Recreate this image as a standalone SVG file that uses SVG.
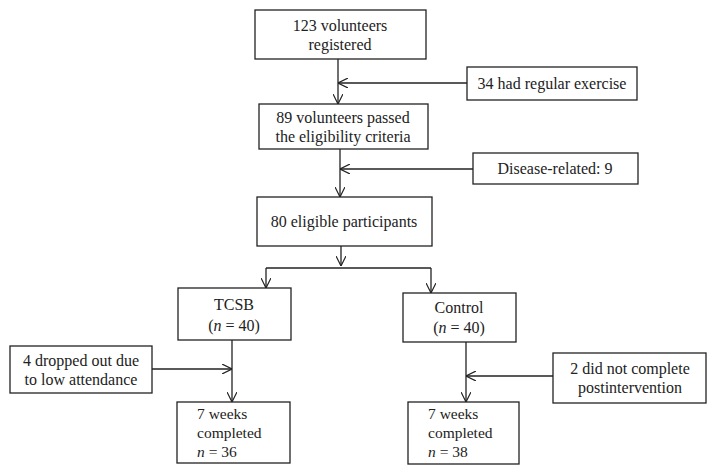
<svg xmlns="http://www.w3.org/2000/svg" width="717" height="475" viewBox="0 0 717 475" font-family="'Liberation Serif', 'Times New Roman', 'DejaVu Serif', serif">
<defs><marker id="a" viewBox="0 0 10 10" refX="10" refY="5" markerWidth="10" markerHeight="10" orient="auto" markerUnits="userSpaceOnUse"><path d="M0,0 L10,5 L0,10" fill="none" stroke="#222" stroke-width="1.2"/></marker></defs>
<style>rect{fill:#fff;stroke:#222;stroke-width:1.3}text{font-family:'Liberation Serif','Times New Roman','DejaVu Serif',serif;font-size:16px;fill:#222;text-anchor:middle}.l{text-anchor:start;font-size:15.5px}line,path.c{stroke:#222;stroke-width:1.3;fill:none}</style>
<rect width="717" height="475" style="stroke:none"/>
<g id="connectors">
<line x1="338" y1="59" x2="338" y2="104" marker-end="url(#a)"/>
<line x1="467" y1="83" x2="338" y2="83" marker-end="url(#a)"/>
<line x1="340" y1="149" x2="340" y2="197" marker-end="url(#a)"/>
<line x1="473" y1="169" x2="340" y2="169" marker-end="url(#a)"/>
<line x1="341" y1="246" x2="341" y2="266" marker-end="url(#a)"/>
<path class="c" d="M266,268 H431"/>
<line x1="266" y1="268" x2="266" y2="288" marker-end="url(#a)"/>
<line x1="431" y1="268" x2="431" y2="293" marker-end="url(#a)"/>
<line x1="232" y1="340" x2="232" y2="402" marker-end="url(#a)"/>
<line x1="152" y1="369" x2="232" y2="369" marker-end="url(#a)"/>
<line x1="466" y1="342" x2="466" y2="402" marker-end="url(#a)"/>
<line x1="553" y1="376" x2="466" y2="376" marker-end="url(#a)"/>
</g>
<g id="n1"><rect x="255" y="10" width="171" height="49"/><text x="340" y="31">123 volunteers</text><text x="340" y="50">registered</text></g>
<g id="n2"><rect x="467" y="67" width="170" height="33"/><text x="552" y="89">34 had regular exercise</text></g>
<g id="n3"><rect x="259" y="104" width="169" height="45"/><text x="343" y="123">89 volunteers passed</text><text x="343" y="142">the eligibility criteria</text></g>
<g id="n4"><rect x="473" y="153" width="165" height="31"/><text x="555" y="174">Disease-related: 9</text></g>
<g id="n5"><rect x="257" y="197" width="175" height="49"/><text x="344" y="227">80 eligible participants</text></g>
<g id="n6"><rect x="178" y="288" width="113" height="52"/><text x="234" y="310">TCSB</text><text x="234" y="331">(<tspan font-style="italic">n</tspan> = 40)</text></g>
<g id="n7"><rect x="403" y="293" width="113" height="49"/><text x="459" y="313">Control</text><text x="459" y="333">(<tspan font-style="italic">n</tspan> = 40)</text></g>
<g id="n8"><rect x="10" y="346" width="142" height="47"/><text x="81" y="366">4 dropped out due</text><text x="81" y="385">to low attendance</text></g>
<g id="n9"><rect x="553" y="353" width="153" height="50"/><text x="630" y="374">2 did not complete</text><text x="630" y="393">postintervention</text></g>
<g id="n10"><rect x="177" y="402" width="113" height="61"/><text class="l" x="197" y="419">7 weeks</text><text class="l" x="197" y="438">completed</text><text class="l" x="197" y="457"><tspan font-style="italic">n</tspan> = 36</text></g>
<g id="n11"><rect x="408" y="402" width="111" height="62"/><text class="l" x="428" y="419">7 weeks</text><text class="l" x="428" y="438">completed</text><text class="l" x="428" y="457"><tspan font-style="italic">n</tspan> = 38</text></g>
</svg>
